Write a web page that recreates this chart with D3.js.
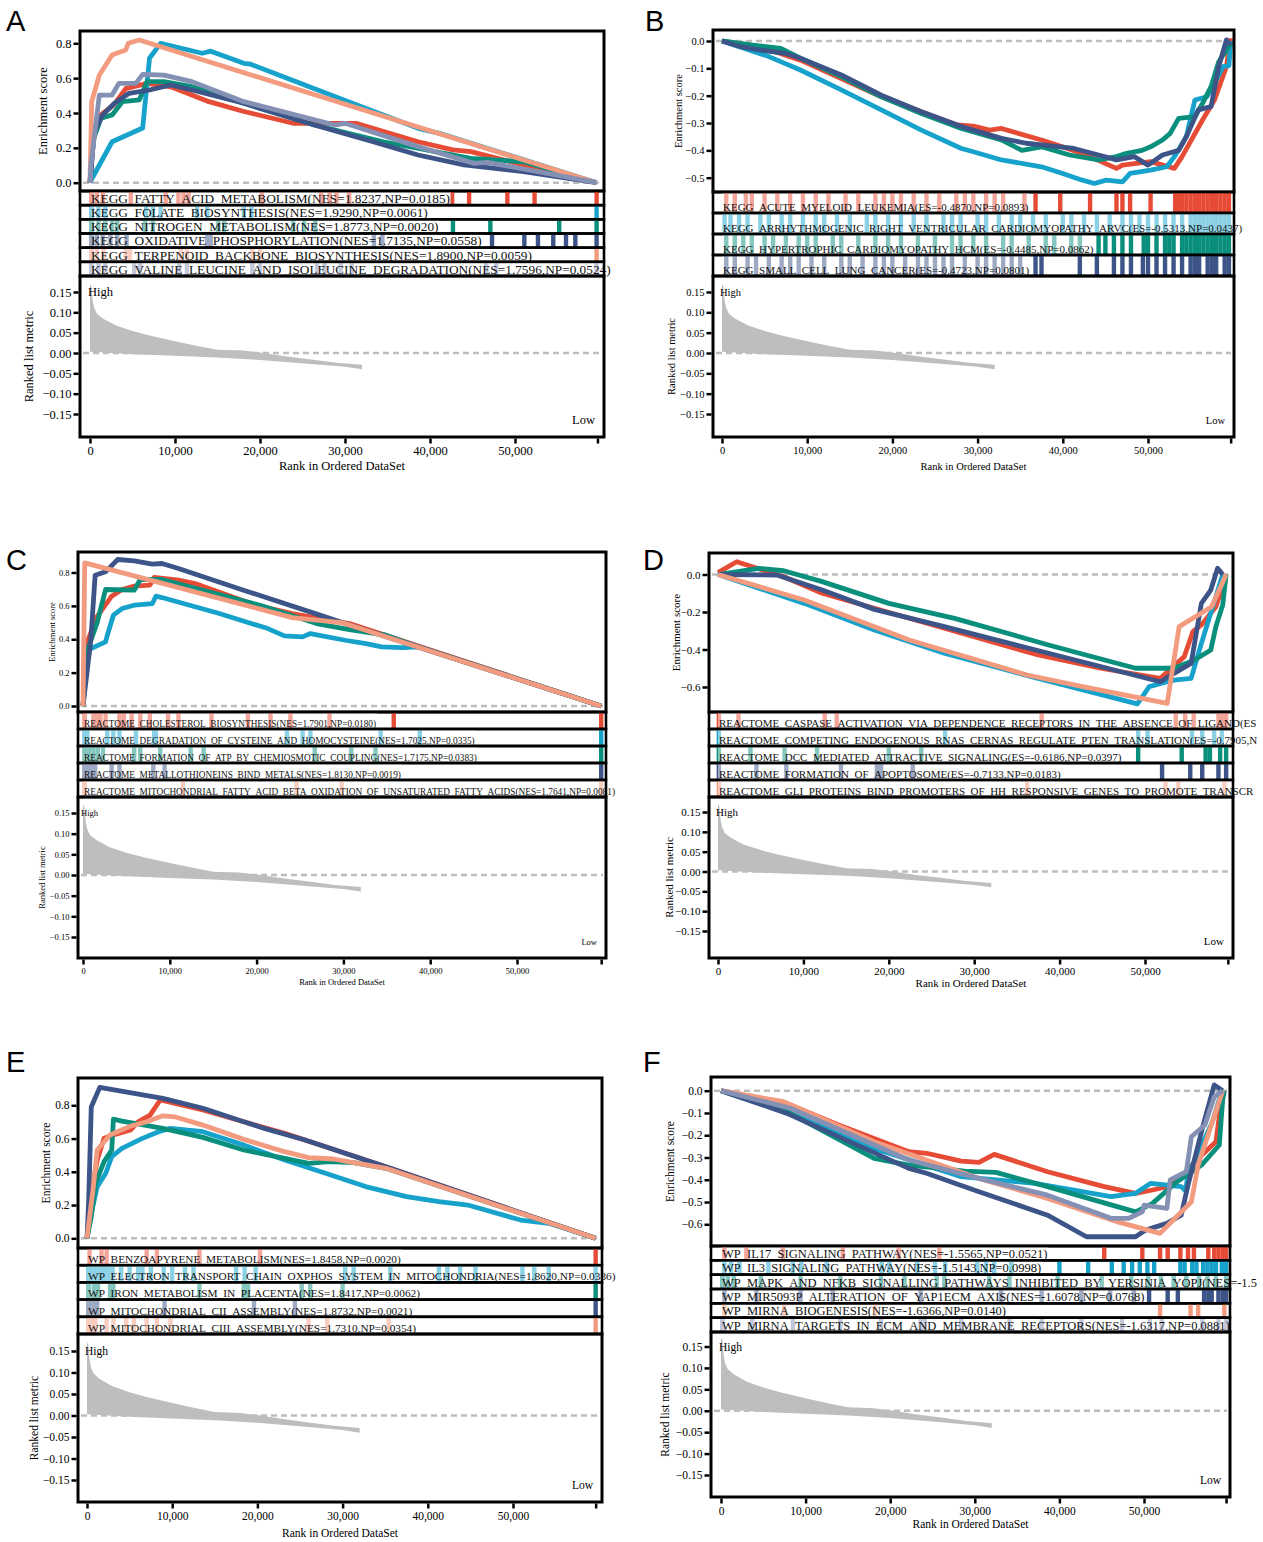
<!DOCTYPE html>
<html>
<head>
<meta charset="utf-8">
<script src="https://cdn.jsdelivr.net/npm/d3@7"></script>
<style>
body{margin:0;background:#fff}
text{font-family:"Liberation Serif","Times New Roman",serif}
text.letter{font-family:"Liberation Sans",Arial,sans-serif}
</style>
</head>
<body>
<svg id="chart" width="1263" height="1542"></svg>
<script>
var colors = ["#E64B35","#17A2CB","#0A8F7C","#3C5488","#F39B7F","#8491B4"];

// ranked list metric (rank in thousands)
var metricTop = [[0,0.17],[0.15,0.165],[0.3,0.13],[0.5,0.11],[0.8,0.097],[1.5,0.085],[3,0.068],[5,0.054],[7,0.043],[10,0.029],[12.5,0.018],[15,0.008],[18,0.006],[20,0.001],[23,-0.008],[26,-0.016],[29,-0.024],[32,-0.029]];
var metricBottom = [[32,-0.04],[30,-0.034],[26,-0.027],[20,-0.017],[15,-0.011],[10,-0.007],[5,-0.003],[0,0.003]];
var xTicks = [0,10,20,30,40,50,59.7];

// ---- A ----
var aNames = ["KEGG_FATTY_ACID_METABOLISM(NES=1.8237,NP=0.0185)",
  "KEGG_FOLATE_BIOSYNTHESIS(NES=1.9290,NP=0.0061)",
  "KEGG_NITROGEN_METABOLISM(NES=1.8773,NP=0.0020)",
  "KEGG_OXIDATIVE_PHOSPHORYLATION(NES=1.7135,NP=0.0558)",
  "KEGG_TERPENOID_BACKBONE_BIOSYNTHESIS(NES=1.8900,NP=0.0059)",
  "KEGG_VALINE_LEUCINE_AND_ISOLEUCINE_DEGRADATION(NES=1.7596,NP=0.0524)"];
var aCurves = [
  [[0,0],[0.4,0.3],[1.3,0.39],[2.8,0.447],[4.2,0.54],[6.7,0.57],[9.5,0.55],[14,0.465],[18,0.41],[23.9,0.341],[31.3,0.341],[38.6,0.235],[42.7,0.188],[44.8,0.178],[51,0.102],[59.6,0]],
  [[0,0],[0.3,0.03],[2.6,0.235],[6.2,0.314],[7,0.714],[8.3,0.8],[13.2,0.743],[14.2,0.755],[18.1,0.685],[18.9,0.68],[22.2,0.618],[30.4,0.465],[38.6,0.312],[41,0.285],[59.6,0]],
  [[0,0],[0.4,0.25],[1.3,0.37],[2.6,0.389],[3.8,0.465],[5.8,0.475],[6.7,0.58],[8.7,0.58],[12,0.551],[18.1,0.456],[26.4,0.331],[34.5,0.235],[44.8,0.14],[51,0.12],[59.6,0]],
  [[0,0],[0.5,0.293],[1.5,0.389],[2.9,0.457],[4.6,0.513],[7,0.532],[9.5,0.561],[12,0.532],[18.1,0.456],[26.4,0.331],[33.3,0.235],[38.6,0.159],[44,0.102],[51,0.063],[59.6,0]],
  [[0,0],[0.2,0.465],[1.1,0.618],[2.6,0.733],[4.2,0.762],[4.5,0.8],[5.8,0.819],[59.6,0]],
  [[0,0],[0.1,0.1],[1.1,0.503],[2.6,0.503],[3.4,0.57],[5.4,0.57],[6.2,0.622],[8.7,0.617],[12,0.58],[18.1,0.465],[28.8,0.331],[30,0.341],[38.6,0.207],[45.2,0.111],[46.8,0.117],[59.6,0]]];
var aHits = [
  [0.2,0.8,1.5,4.8,8.9,10.4,11,11.6,20.2,27.2,28.2,29,30.5,42.6,44.6,49.1,52.3,59.6],
  [0.2,1,1.8,6.6,7.4,8.3,12.6,13.8,18.1,19,59.6],
  [0.2,1,1.8,2.6,3.2,6.5,7.4,15.1,15.8,23.9,25.2,26.5,42.7,47.1,55.2,59.6],
  [0.2,0.8,1.5,2.4,3.2,4.3,13.8,14.2,33.4,34.4,47.3,51.1,52.7,54.5,56,57.1,59.6],
  [0.2,0.8,1.6,4.2,4.7,10.7,11.4,19.1,20,59.6],
  [0.2,1,1.8,5.2,5.9,10.5,11.4,19.1,20,26.7,27.6,29.5,30.8,46.6,47.8,59.6]];

// ---- B ----
var bNames = ["KEGG_ACUTE_MYELOID_LEUKEMIA(ES=-0.4870,NP=0.0893)",
  "KEGG_ARRHYTHMOGENIC_RIGHT_VENTRICULAR_CARDIOMYOPATHY_ARVC(ES=-0.5313,NP=0.0437)",
  "KEGG_HYPERTROPHIC_CARDIOMYOPATHY_HCM(ES=-0.4485,NP=0.0862)",
  "KEGG_SMALL_CELL_LUNG_CANCER(ES=-0.4723,NP=0.0801)"];
var bCurves = [
  [[0,0],[4.5,-0.021],[9.2,-0.07],[14,-0.137],[18.7,-0.204],[23.4,-0.259],[27.6,-0.307],[29.5,-0.311],[31.4,-0.326],[32.8,-0.32],[37.5,-0.362],[42.3,-0.411],[46.3,-0.466],[47,-0.454],[50.3,-0.441],[53.1,-0.466],[54,-0.423],[56.4,-0.289],[57.8,-0.216],[59.2,-0.094],[59.7,0.01]],
  [[0,0],[5.5,-0.057],[9.2,-0.106],[14,-0.179],[18.7,-0.252],[23.4,-0.326],[28.1,-0.393],[29.5,-0.405],[32.8,-0.435],[37.5,-0.46],[39.9,-0.484],[42.3,-0.509],[43.7,-0.521],[45.1,-0.509],[47,-0.515],[47.9,-0.484],[50.3,-0.472],[52.2,-0.46],[53.1,-0.423],[54.5,-0.35],[55.5,-0.216],[56.9,-0.204],[57.8,-0.155],[58.8,-0.094],[59.5,-0.09],[59.7,0]],
  [[0,0],[3.6,-0.015],[6.9,-0.027],[9.2,-0.063],[14,-0.13],[18.7,-0.204],[23.4,-0.265],[28.1,-0.32],[32.8,-0.362],[35.2,-0.4],[37.5,-0.387],[40.8,-0.417],[44.2,-0.435],[46.3,-0.423],[47.5,-0.411],[49.3,-0.4],[50.3,-0.387],[51.7,-0.362],[52.6,-0.338],[53.6,-0.283],[55.5,-0.277],[56.4,-0.228],[57.4,-0.167],[58.3,-0.076],[59.7,-0.01]],
  [[0,0],[2.2,-0.021],[4.5,-0.033],[7.4,-0.045],[9.2,-0.063],[14,-0.124],[18.7,-0.198],[23.4,-0.259],[28.1,-0.313],[29.5,-0.326],[32.8,-0.356],[35.7,-0.374],[37.5,-0.38],[41.3,-0.393],[44.2,-0.417],[46.3,-0.435],[48.4,-0.423],[50,-0.454],[51.7,-0.417],[53.6,-0.4],[54.5,-0.35],[55.9,-0.252],[57.4,-0.24],[58.3,-0.094],[59.2,0.004],[59.7,-0.015]]];
var bHits = [
  [0.5,1.5,2.8,3.5,5,6.5,8,9.5,11,12.5,14.5,16,18,19,20,21,22.5,24,25.5,27.5,28.5,29.5,31,32,33,35.5,36.8,39.7,43.2,46.3,47,47.9,50.3,53.2,53.6,54,54.5,55,55.5,56,56.5,57,57.5,58,58.5,59,59.5],
  [0.3,1,2,3,4.5,5.5,7,8,9.5,11,12,13.5,15,17,18,19.5,21,22.5,24,26,27,28,30,31,32.5,34,35,36.5,38,40,41,42.5,44,45.5,47,48,49,50,51,52,53,54,55,55.5,56,56.5,57,57.5,58,58.5,59,59.5],
  [0.5,1.5,2.5,3.5,5,6,7.5,9,10,11,13,14,16,18,19.5,21,23,25,27,28,29.5,31,33,34,36,38,39,41,42,44.2,45,46,47,48,49.5,50,51,52,52.5,53,54,54.5,55,55.5,56,56.5,57,57.5,58,58.5,59,59.5],
  [0.5,1.5,3,4,5.5,7,8,9,10.5,12,14,15,16.5,18,19,20,21.5,23,24,25,26,27,28.5,30,31,32,33,34,35,36.8,37.5,42,44,46,47,48,49.4,50,51,52,53,54,55,55.5,56,57,57.5,58,59,59.5]];

// ---- C ----
var cNames = ["REACTOME_CHOLESTEROL_BIOSYNTHESIS(NES=1.7901,NP=0.0180)",
  "REACTOME_DEGRADATION_OF_CYSTEINE_AND_HOMOCYSTEINE(NES=1.7025,NP=0.0335)",
  "REACTOME_FORMATION_OF_ATP_BY_CHEMIOSMOTIC_COUPLING(NES=1.7175,NP=0.0383)",
  "REACTOME_METALLOTHIONEINS_BIND_METALS(NES=1.8130,NP=0.0019)",
  "REACTOME_MITOCHONDRIAL_FATTY_ACID_BETA_OXIDATION_OF_UNSATURATED_FATTY_ACIDS(NES=1.7641,NP=0.0081)"];
var cCurves = [
  [[0,0],[0.5,0.384],[1.6,0.534],[3.3,0.658],[4.5,0.698],[5.9,0.718],[7.7,0.724],[8.2,0.77],[11,0.754],[12.9,0.734],[19.9,0.604],[24.1,0.554],[27.9,0.518],[30.7,0.494],[59.7,0]],
  [[0,0],[0.5,0.334],[2.6,0.384],[2.8,0.424],[3.5,0.544],[4.5,0.584],[5.9,0.604],[8,0.614],[8.4,0.658],[9.1,0.65],[15.7,0.554],[21.3,0.464],[23.2,0.42],[25.3,0.414],[26.2,0.434],[30.2,0.394],[32.6,0.374],[34.4,0.354],[36.8,0.35],[38.7,0.354],[59.7,0]],
  [[0,0],[0.5,0.334],[1.6,0.494],[2.6,0.698],[5.9,0.694],[6.6,0.758],[9.1,0.758],[20.4,0.604],[26.9,0.494],[30.7,0.458],[34.9,0.424],[38.7,0.354],[59.7,0]],
  [[0,0],[0.9,0.394],[1.4,0.784],[2.6,0.804],[4,0.878],[5.9,0.87],[8,0.85],[9.1,0.854],[11,0.824],[18.5,0.694],[27.9,0.534],[30.2,0.494],[59.7,0]],
  [[0,0],[0.2,0.858],[24.1,0.53],[29.8,0.5],[59.7,0]]];
var cHits = [
  [0.2,1.2,1.6,2,2.6,4.2,4.7,5.6,6.6,7.7,9.8,11,14.8,19,21.6,23.9,28.4,35.8,59.7],
  [0.2,0.5,2.8,3.5,4.2,6.1,8.2,8.4,23.5,25.3,26.2,34.3,38.8,59.7],
  [0.2,0.7,1.2,1.7,2.3,5.9,6.6,8.9,12.4,13.9,26.7,30.9,33.7,59.7],
  [0.2,0.6,1,1.4,3.3,4.2,8.1,9.4,59.7],
  [0.2,11.5,24.6,29.8,59.7]];

// ---- D ----
var dNames = ["REACTOME_CASPASE_ACTIVATION_VIA_DEPENDENCE_RECEPTORS_IN_THE_ABSENCE_OF_LIGAND(ES",
  "REACTOME_COMPETING_ENDOGENOUS_RNAS_CERNAS_REGULATE_PTEN_TRANSLATION(ES=-0.7905,N",
  "REACTOME_DCC_MEDIATED_ATTRACTIVE_SIGNALING(ES=-0.6186,NP=0.0397)",
  "REACTOME_FORMATION_OF_APOPTOSOME(ES=-0.7133,NP=0.0183)",
  "REACTOME_GLI_PROTEINS_BIND_PROMOTERS_OF_HH_RESPONSIVE_GENES_TO_PROMOTE_TRANSCR"];
var dCurves = [
  [[0,0.01],[2.2,0.068],[7.7,-0.012],[12.2,-0.1],[18.3,-0.18],[26.5,-0.287],[37.5,-0.429],[44.8,-0.5],[51.8,-0.554],[54.6,-0.438],[55.6,-0.305],[56.6,-0.269],[58.3,-0.172],[59.5,0]],
  [[0,0],[10.1,-0.154],[18.3,-0.296],[26.5,-0.42],[36.7,-0.545],[49.1,-0.69],[50.5,-0.598],[52.6,-0.572],[53.4,-0.563],[55.4,-0.554],[56.6,-0.367],[58.3,-0.118],[59.1,0]],
  [[0,0],[4.8,0.033],[7.7,0.02],[12.2,-0.038],[20,-0.154],[27.7,-0.234],[38.7,-0.376],[48.9,-0.5],[53.4,-0.5],[55.8,-0.456],[57.7,-0.403],[58.3,-0.278],[59.1,-0.163],[59.5,0]],
  [[0,0],[6.9,-0.003],[12.2,-0.083],[18.3,-0.186],[26.5,-0.278],[38.7,-0.42],[51.8,-0.572],[53.4,-0.527],[55.4,-0.474],[56.6,-0.154],[57.7,-0.083],[58.5,0.033],[59.1,0]],
  [[0,0],[10.1,-0.136],[22.4,-0.349],[36.2,-0.536],[42.7,-0.598],[52.6,-0.687],[54,-0.278],[57.8,-0.172],[59.5,0]]];
var dHits = [
  [0.1,2.4,12.5,13.9,37.9,53.6,54.7,55.7,58.6,59,59.5],
  [0.1,26.6,49.2,50.3,55.5,56.7,58.1,59],
  [0.1,3.8,7.8,11.6,20,23.8,49.2,54.3,57.1,57.6,58.8,59.5],
  [0.1,4.5,8,14.4,18.6,19.1,22.8,52,55.3,56.7,58.6,59.5],
  [0.1,36.2,52.4,53.9,59.3]];

// ---- E ----
var eNames = ["WP_BENZOAPYRENE_METABOLISM(NES=1.8458,NP=0.0020)",
  "WP_ELECTRON_TRANSPORT_CHAIN_OXPHOS_SYSTEM_IN_MITOCHONDRIA(NES=1.8620,NP=0.0336)",
  "WP_IRON_METABOLISM_IN_PLACENTA(NES=1.8417,NP=0.0062)",
  "WP_MITOCHONDRIAL_CII_ASSEMBLY(NES=1.8732,NP=0.0021)",
  "WP_MITOCHONDRIAL_CIII_ASSEMBLY(NES=1.7310,NP=0.0354)"];
var eCurves = [
  [[0,0],[0.6,0.3],[1.2,0.471],[2,0.601],[3.1,0.621],[5.1,0.651],[6,0.701],[7.4,0.741],[8.2,0.802],[8.6,0.832],[13.6,0.772],[18.4,0.701],[23.2,0.631],[28,0.551],[32.7,0.471],[35.6,0.421],[59.7,0]],
  [[0,0],[0.5,0.15],[1.2,0.311],[2.2,0.391],[2.9,0.491],[4.1,0.541],[6.5,0.601],[8.4,0.641],[9.8,0.661],[13.6,0.641],[18.4,0.561],[23.2,0.471],[28,0.391],[32.7,0.311],[37.5,0.251],[41.3,0.22],[44.7,0.2],[50.9,0.11],[54.2,0.09],[59.7,0]],
  [[0,0],[0.5,0.13],[1,0.331],[2,0.461],[2.9,0.531],[3.1,0.717],[4.1,0.705],[8.9,0.661],[13.6,0.607],[18.4,0.531],[23.2,0.481],[26,0.451],[28.4,0.461],[31.3,0.455],[35.1,0.421],[59.7,0]],
  [[0,0],[0.2,0.23],[0.5,0.79],[1.5,0.908],[8.9,0.842],[13.6,0.782],[18.4,0.701],[20.8,0.661],[25.6,0.591],[30.3,0.511],[35.6,0.421],[59.7,0]],
  [[0,0],[0.7,0.29],[1.2,0.531],[2.7,0.621],[5.1,0.675],[7,0.701],[8.9,0.737],[10.3,0.731],[13.6,0.681],[18.4,0.595],[23.2,0.521],[26,0.485],[28.9,0.477],[31.3,0.455],[35.1,0.421],[59.7,0]]];
var eHits = [
  [0.3,1.7,2.3,7,8.2,13.2,20.3,59.7],
  [0.2,0.5,1,1.5,2,2.5,3,4,5,6,6.5,7.5,9,10,11.5,12.5,17.5,18.5,19.8,30.3,31.3,35.6,41.3,42.3,43.8,45.6,51.1,52.5,54.2,59.7],
  [0.2,0.8,1.3,2.7,3.1,13.2,18.4,18.9,25.2,26.2,30,59.7],
  [0.2,0.5,0.8,1.2,9.1,19.6,24.4,59.7],
  [0.2,0.6,1,2.3,3.1,4.6,5.5,7,8.2,9.8,26,28.2,35.4,59.7]];

// ---- F ----
var fNames = ["WP_IL17_SIGNALING_PATHWAY(NES=-1.5565,NP=0.0521)",
  "WP_IL3_SIGNALING_PATHWAY(NES=-1.5143,NP=0.0998)",
  "WP_MAPK_AND_NFKB_SIGNALLING_PATHWAYS_INHIBITED_BY_YERSINIA_YOPJ(NES=-1.5",
  "WP_MIR5093P_ALTERATION_OF_YAP1ECM_AXIS(NES=-1.6078,NP=0.0768)",
  "WP_MIRNA_BIOGENESIS(NES=-1.6366,NP=0.0140)",
  "WP_MIRNA_TARGETS_IN_ECM_AND_MEMBRANE_RECEPTORS(NES=-1.6317,NP=0.0881)"];
var fCurves = [
  [[0,0],[8.2,-0.064],[13.9,-0.154],[22.2,-0.274],[24.3,-0.281],[28.4,-0.316],[30.5,-0.322],[32.3,-0.286],[38.6,-0.364],[45.3,-0.431],[49,-0.461],[51,-0.446],[52.7,-0.431],[54.7,-0.379],[56,-0.319],[58.5,-0.229],[59.3,0]],
  [[0,0],[8.2,-0.102],[18.1,-0.259],[28.4,-0.386],[37.1,-0.416],[46.1,-0.476],[49,-0.461],[50.8,-0.416],[54.4,-0.431],[54.9,-0.45],[55.2,-0.379],[58.1,-0.139],[59.2,0]],
  [[0,0],[7.8,-0.094],[18.1,-0.304],[22.2,-0.334],[28.8,-0.361],[32.5,-0.367],[38.6,-0.431],[49,-0.544],[51,-0.506],[53.9,-0.409],[56.8,-0.334],[58.9,-0.244],[59.3,-0.04],[59.5,0]],
  [[0,0],[7.8,-0.102],[22.2,-0.349],[24.3,-0.371],[30.5,-0.454],[38.6,-0.559],[43.2,-0.656],[49,-0.656],[50.2,-0.626],[52.7,-0.596],[54.4,-0.559],[55.2,-0.424],[56,-0.304],[57,-0.154],[58.3,0.026],[59.3,0]],
  [[0,0],[7.4,-0.049],[18.1,-0.229],[30.5,-0.394],[38.6,-0.484],[46.9,-0.589],[51.9,-0.641],[55.6,-0.499],[56.4,-0.334],[59.3,0]],
  [[0,0],[8.2,-0.079],[22.2,-0.311],[30.5,-0.394],[38.6,-0.469],[46.1,-0.573],[48.2,-0.573],[49.8,-0.544],[50,-0.514],[52.7,-0.529],[53.1,-0.401],[55,-0.364],[55.6,-0.207],[57.2,-0.154],[58.3,-0.027],[59.3,0]]];
var fHits = [
  [0.4,3,7.3,14.4,21,25.8,45.3,49.8,51.9,52.8,54.3,55.2,55.9,57.6,58.3,58.8,59.3,59.7],
  [0.4,1.2,2.2,5.6,8.5,9.5,12.5,19,19.9,23.2,25.3,26.5,30.3,31.3,32.3,34.3,40,43.4,46.2,47.6,48.6,49.5,50.4,51.2,54.3,54.8,55.7,56.2,57,57.5,58,58.5,59.2,59.7],
  [0.2,0.8,1.5,4.7,9.4,14.1,18.9,21.7,25.5,26.4,31.7,34.1,39.8,45,48.5,50.5,52,53.5,55,56.5,57.5,58.5,59.7],
  [0.4,4.2,9.4,13.2,23.6,33.1,37.9,42.6,46,48.8,50.6,52.8,54,57.1,57.6,58,58.8,59.3,59.7],
  [0.4,7.5,18.2,51.9,55.5,56.4,59.5],
  [0.2,3.7,8.5,14.1,18.9,23.6,24.1,28.4,34.1,37.9,42.6,47.4,50.7,52.1,56.9,58.8,59.7]];

var panels = [
  {id:"A", names:aNames, curves:aCurves, hits:aHits, cols:[0,1,2,3,4,5], esDom:[0,0.8], esTicks:[0,0.2,0.4,0.6,0.8]},
  {id:"B", names:bNames, curves:bCurves, hits:bHits, cols:[0,1,2,3], esDom:[0,-0.5], esTicks:[0,-0.1,-0.2,-0.3,-0.4,-0.5]},
  {id:"C", names:cNames, curves:cCurves, hits:cHits, cols:[0,1,2,3,4], esDom:[0,0.8], esTicks:[0,0.2,0.4,0.6,0.8]},
  {id:"D", names:dNames, curves:dCurves, hits:dHits, cols:[0,1,2,3,4], esDom:[0,-0.6], esTicks:[0,-0.2,-0.4,-0.6]},
  {id:"E", names:eNames, curves:eCurves, hits:eHits, cols:[0,1,2,3,4], esDom:[0,0.8], esTicks:[0,0.2,0.4,0.6,0.8]},
  {id:"F", names:fNames, curves:fCurves, hits:fHits, cols:[0,1,2,3,4,5], esDom:[0,-0.6], esTicks:[0,-0.1,-0.2,-0.3,-0.4,-0.5,-0.6]}
];

// layout of each panel (pixels)
var layouts = {
  A:{letter:[6,31], x0:80, x1:604, xz:90, x50:515, es:[31,191], esPx:[182.7,43.3], genes:[191,276], rank:[276,437], mPx:[292,414], font:12.5, lab:13.3, esTx:43, rkTx:29, titleY:470, clipR:628},
  B:{letter:[645,31], x0:713, x1:1234, xz:722, x50:1148, es:[30,192], esPx:[41,177.7], genes:[192,276], rank:[276,437], mPx:[292,414], font:10.5, lab:11, esTx:678, rkTx:671, titleY:470, clipR:1263},
  C:{letter:[6,570], x0:78, x1:606, xz:83, x50:517, es:[552,712], esPx:[706,572.5], genes:[712,797], rank:[797,958], mPx:[813,937], font:8.5, lab:9.3, esTx:52, rkTx:42, titleY:985, clipR:628},
  D:{letter:[643,570], x0:709, x1:1233, xz:718, x50:1145, es:[553,712], esPx:[574.5,687], genes:[712,797], rank:[797,958], mPx:[812,931], font:11, lab:11, esTx:676, rkTx:669, titleY:987, clipR:1263},
  E:{letter:[6,1072], x0:78, x1:602, xz:87, x50:513, es:[1078,1248], esPx:[1238.3,1105.3], genes:[1248,1334], rank:[1334,1502], mPx:[1351,1480], font:11.5, lab:11.3, esTx:46, rkTx:34, titleY:1537, clipR:624},
  F:{letter:[643,1072], x0:711, x1:1230, xz:721, x50:1144, es:[1077,1246], esPx:[1090.7,1224.3], genes:[1246,1332], rank:[1332,1497], mPx:[1346.5,1475], font:11.5, lab:12.5, esTx:670, rkTx:665, titleY:1528, clipR:1263}
};

var svg = d3.select("#chart");
var defs = svg.append("defs");

function drawPanel(P, L){
  var x = d3.scaleLinear().domain([0,50]).range([L.xz, L.x50]);
  var y = d3.scaleLinear().domain(P.esDom).range(L.esPx);
  var ym = d3.scaleLinear().domain([0.15,-0.15]).range(L.mPx);
  var g = svg.append("g");

  g.append("text").attr("class","letter").attr("x",L.letter[0]).attr("y",L.letter[1])
    .attr("font-size",29).text(P.id);

  // enrichment score panel
  g.append("line").attr("x1",L.x0+3).attr("x2",L.x1-3).attr("y1",y(0)).attr("y2",y(0))
    .attr("stroke","#bdbdbd").attr("stroke-width",2.5).attr("stroke-dasharray","6,4");
  var line = d3.line().x(function(d){return x(d[0]);}).y(function(d){return y(d[1]);});
  g.selectAll(null).data(P.curves).enter().append("path")
    .attr("d",line).attr("fill","none")
    .attr("stroke",function(d,i){return colors[P.cols[i]];})
    .attr("stroke-width",4.8).attr("stroke-linejoin","round");
  g.append("rect").attr("x",L.x0).attr("y",L.es[0]).attr("width",L.x1-L.x0).attr("height",L.es[1]-L.es[0])
    .attr("fill","none").attr("stroke","#000").attr("stroke-width",3);

  var ax = g.append("g").attr("transform","translate("+(L.x0-1.5)+",0)")
    .call(d3.axisLeft(y).tickValues(P.esTicks).tickFormat(d3.format(".1f")).tickSize(5).tickPadding(2));
  ax.select(".domain").remove();
  ax.selectAll("line").attr("stroke-width",2.5);
  ax.selectAll("text").style("font-size",L.font+"px");
  g.append("text").attr("transform","translate("+L.esTx+","+((L.es[0]+L.es[1])/2)+") rotate(-90)")
    .attr("text-anchor","middle").attr("dy","0.35em").style("font-size",L.font+"px").text("Enrichment score");

  // gene hit rows
  defs.append("clipPath").attr("id","clip"+P.id).append("rect")
    .attr("x",L.x0-5).attr("y",L.genes[0]-3).attr("width",L.clipR-L.x0+5).attr("height",L.genes[1]-L.genes[0]+6);
  var rows = g.append("g").attr("clip-path","url(#clip"+P.id+")");
  var n = P.names.length, rowH = (L.genes[1]-L.genes[0])/n;
  P.names.forEach(function(name,i){
    var ry = L.genes[0]+i*rowH;
    var r = rows.append("g");
    r.selectAll("rect").data(P.hits[i]).enter().append("rect")
      .attr("x",function(d){return x(d)-2.2;}).attr("width",4.4)
      .attr("y",ry).attr("height",rowH).attr("fill",colors[P.cols[i]]);
    var t = r.append("text").attr("x",x(0)+1).attr("y",ry+rowH-2.2)
      .style("font-size",L.lab+"px").attr("fill","#111").text(name);
    var w = t.node().getComputedTextLength();
    r.insert("rect","text").attr("x",x(0)).attr("y",ry).attr("width",w+2).attr("height",rowH)
      .attr("fill","#fff").attr("fill-opacity",0.5);
    r.append("rect").attr("x",L.x0).attr("y",ry).attr("width",L.x1-L.x0).attr("height",rowH)
      .attr("fill","none").attr("stroke","#000").attr("stroke-width",2.6);
  });

  // ranked list metric
  var area = d3.line().x(function(d){return x(d[0]);}).y(function(d){return ym(d[1]);});
  g.append("path").attr("d",area(metricTop.concat(metricBottom))+"Z").attr("fill","#bebebe");
  g.append("line").attr("x1",L.x0+3).attr("x2",L.x1-3).attr("y1",ym(0)).attr("y2",ym(0))
    .attr("stroke","#bdbdbd").attr("stroke-width",2.5).attr("stroke-dasharray","6,4");
  g.append("rect").attr("x",L.x0).attr("y",L.rank[0]).attr("width",L.x1-L.x0).attr("height",L.rank[1]-L.rank[0])
    .attr("fill","none").attr("stroke","#000").attr("stroke-width",3);
  g.append("text").attr("x",x(0)-2).attr("y",ym(0.15)).attr("dy","0.35em").style("font-size",L.font+"px").text("High");
  g.append("text").attr("x",L.x1-9).attr("y",L.rank[1]-13).attr("text-anchor","end").style("font-size",L.font+"px").text("Low");

  var ay = g.append("g").attr("transform","translate("+(L.x0-1.5)+",0)")
    .call(d3.axisLeft(ym).tickValues([0.15,0.1,0.05,0,-0.05,-0.1,-0.15]).tickFormat(d3.format(".2f")).tickSize(5).tickPadding(2));
  ay.select(".domain").remove();
  ay.selectAll("line").attr("stroke-width",2.5);
  ay.selectAll("text").style("font-size",L.font+"px");
  g.append("text").attr("transform","translate("+L.rkTx+","+((L.rank[0]+L.rank[1])/2)+") rotate(-90)")
    .attr("text-anchor","middle").attr("dy","0.35em").style("font-size",L.font+"px").text("Ranked list metric");

  var axx = g.append("g").attr("transform","translate(0,"+(L.rank[1]+1.5)+")")
    .call(d3.axisBottom(x).tickValues(xTicks).tickFormat(function(d){return d>55 ? "" : d3.format(",")(d*1000);}).tickSize(5).tickPadding(3));
  axx.select(".domain").remove();
  axx.selectAll("line").attr("stroke-width",2.5);
  axx.selectAll("text").style("font-size",L.font+"px");
  g.append("text").attr("x",(L.x0+L.x1)/2).attr("y",L.titleY).attr("text-anchor","middle")
    .style("font-size",L.font+"px").text("Rank in Ordered DataSet");
}

panels.forEach(function(p){ drawPanel(p, layouts[p.id]); });
</script>
</body>
</html>
